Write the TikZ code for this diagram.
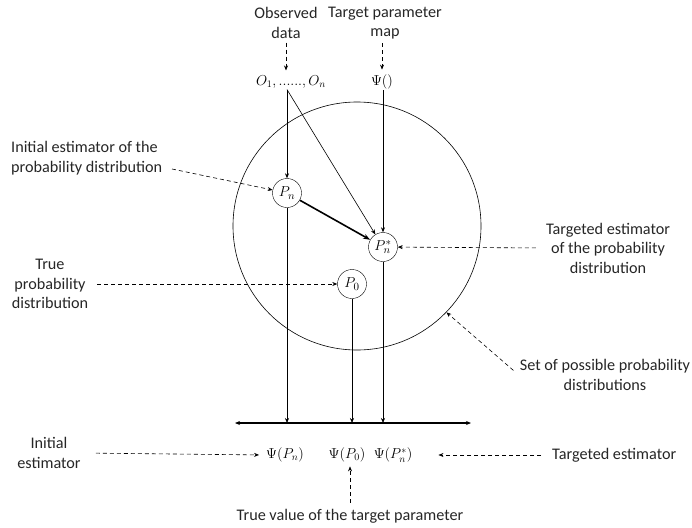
\documentclass[tikz,border=0pt]{standalone}
\usepackage{amsmath}
\usepackage{fontspec}
\setmainfont{Carlito}
\usepackage{tikz}
\usetikzlibrary{arrows.meta,positioning,calc}
\tikzset{
  lbl/.style={font=\fontsize{16.2}{19.5}\selectfont,align=center,inner sep=1pt,text=black!85},
  pnode/.style={draw,circle,minimum size=29pt,inner sep=0pt,font=\fontsize{15}{17}\selectfont},
  mth/.style={font=\fontsize{14.5}{16}\selectfont,inner sep=1pt},
  ar/.style={-{Stealth[length=5pt,width=4pt]},line width=0.6pt},
  da/.style={ar,dash pattern=on 4pt off 3pt},
  ax/.style={{Stealth[length=5pt,width=4pt]}-{Stealth[length=5pt,width=4pt]},line width=1.1pt}
}

\begin{document}
\begin{tikzpicture}[x=1pt,y=-1pt]
  \useasboundingbox (0,0) rectangle (692,527);
  % set of distributions
  \node[draw,circle,minimum size=248pt,line width=0.6pt] (pspace) at (357,226) {};
  % inputs
  \node[lbl] (obs) at (286,23) {Observed\\data};
  \node[lbl] (tpm) at (385,23) {Target parameter\\map};
  \node[mth] (on) at (291,82) {$O_1,......,O_n$};
  \node[mth] (psi) at (382,82) {$\Psi()$};
  % distributions
  \node[pnode] (pn) at (287,193) {$P_n$};
  \node[pnode] (pns) at (383,247) {$P_n^*$};
  \node[pnode] (p0) at (352,284) {$P_0$};
  % labels
  \node[lbl,align=left,anchor=west] (initlbl) at (10,158) {Initial estimator of the\\probability distribution};
  \node[lbl] (truelbl) at (50,284) {True\\probability\\distribution};
  \node[lbl] (tgtlbl) at (608,248) {Targeted estimator\\of the probability\\distribution};
  \node[lbl] (setlbl) at (605,375) {Set of possible probability\\distributions};
  % parameter axis
  \coordinate (axl) at (235,423);
  \coordinate (axr) at (471,423);
  \node[mth] (psipn) at (285,455) {$\Psi(P_n)$};
  \node[mth] (psip0) at (347,455) {$\Psi(P_0)$};
  \node[mth] (psipns) at (393,455) {$\Psi(P_n^*)$};
  \node[lbl] (iest) at (49,453) {Initial\\estimator};
  \node[lbl,anchor=west] (test) at (551,455) {Targeted estimator};
  \node[lbl] (trueval) at (350,516) {True value of the target parameter};
  \coordinate (initt) at (172,169);

  \draw[da,shorten <=3pt,shorten >=4pt] (obs.south) -- (obs.south |- on.north);
  \draw[da,shorten <=3pt,shorten >=4pt] (psi.north |- tpm.south) -- (psi.north);
  \draw[ar] (on.south -| pn) -- (pn);
  \draw[ar] (on.south -| pn) -- (pns);
  \draw[ar] (psi.south -| pns) -- (pns);
  \draw[-{Stealth[length=7pt,width=5pt]},line width=1.6pt] (pn) -- (pns);
  \draw[ax] (axl) -- (axr);
  \draw[ar] (pn) -- (pn |- axl);
  \draw[ar] (p0) -- (p0 |- axl);
  \draw[ar] (pns) -- (pns |- axl);
  \draw[da] (initt) -- (pn);
  \draw[da,shorten <=8pt] (truelbl.east) -- (p0);
  \draw[da,shorten <=9pt] (tgtlbl.west) -- (pns);
  \draw[da,shorten <=7pt] (setlbl.west) -- (pspace.-44);
  \draw[da,shorten <=14pt,shorten >=6pt] (iest.east) -- (psipn.west);
  \draw[da,shorten <=10pt,shorten >=25pt] (test.west) -- (psipns.east);
  \draw[da,shorten <=5pt,shorten >=3pt] (trueval.north) -- (trueval.north |- psip0.south);
\end{tikzpicture}
\end{document}
